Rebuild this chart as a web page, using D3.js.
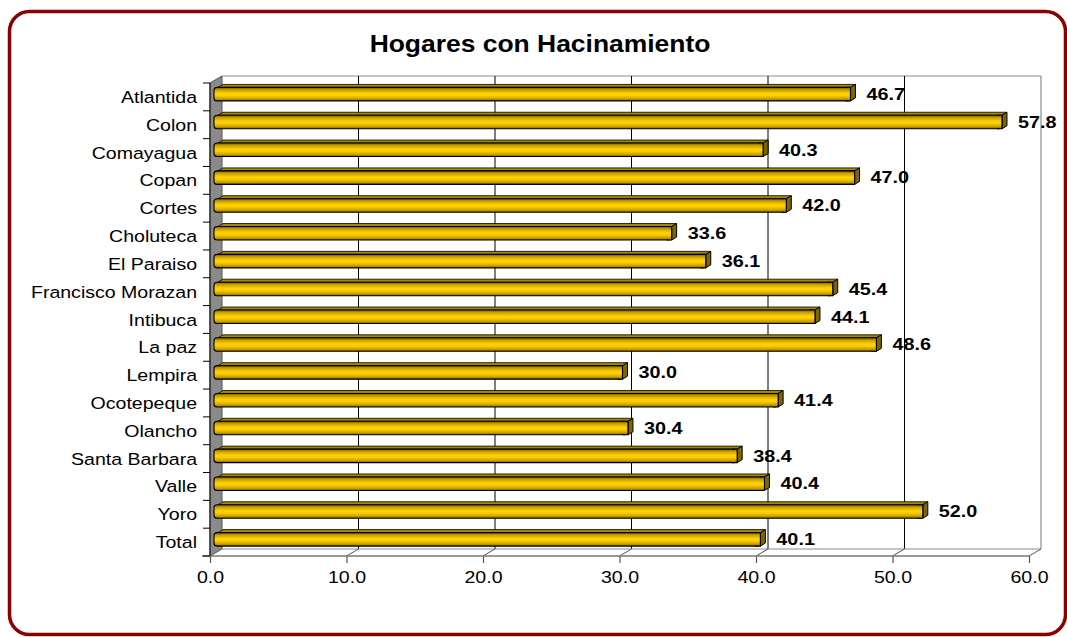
<!DOCTYPE html>
<html><head><meta charset="utf-8">
<script src="https://cdn.jsdelivr.net/npm/d3@7"></script>
<style>
html,body{margin:0;padding:0;background:#fff;}
svg{display:block;}
text{font-family:"Liberation Sans",Arial,sans-serif;fill:#000;}
</style></head>
<body>
<svg id="chart" width="1067" height="637"></svg>
<script>
const categories = ["Atlantida","Colon","Comayagua","Copan","Cortes","Choluteca","El Paraiso","Francisco Morazan","Intibuca","La paz","Lempira","Ocotepeque","Olancho","Santa Barbara","Valle","Yoro","Total"];
const values = [46.7,57.8,40.3,47.0,42.0,33.6,36.1,45.4,44.1,48.6,30.0,41.4,30.4,38.4,40.4,52.0,40.1];
const tickValues = [0,10,20,30,40,50,60];
const title = "Hogares con Hacinamiento";

(function(){
const svg = d3.select("#chart");

// frame
svg.append("rect").attr("x",9.5).attr("y",11.5).attr("width",1056).attr("height",623)
  .attr("rx",20).attr("ry",20).attr("fill","#fff").attr("stroke","#8B0000").attr("stroke-width",3.5);

// title
svg.append("text").attr("transform","translate(540,52) scale(1.15,1)")
  .attr("text-anchor","middle").style("font-size","23px").style("font-weight","bold").text(title);

// geometry
const x = d3.scaleLinear().domain([0,60]).range([210,1029]);
const y = d3.scaleBand().domain(categories).range([83,556]).padding(0);
const DX = 12, DY = -7;            // 3D depth of the plot box
const bDX = 5, bDY = -3;           // depth of each bar
const yTop = y.range()[0], yBot = y.range()[1];

// defs: gradient
const defs = svg.append("defs");
const g1 = defs.append("linearGradient").attr("id","gold").attr("x1",0).attr("y1",0).attr("x2",0).attr("y2",1);
[[0,"#6f5a00"],[0.18,"#c9a000"],[0.45,"#ffd200"],[0.6,"#ffcc00"],[0.85,"#c9a000"],[1,"#6f5a00"]]
  .forEach(([o,c])=>g1.append("stop").attr("offset",o).attr("stop-color",c));

// back wall edges
svg.append("line").attr("x1",x(0)+DX).attr("x2",x(60)+DX).attr("y1",yTop+DY).attr("y2",yTop+DY)
  .attr("stroke","#8c8c8c").attr("stroke-width",1.2);
svg.append("line").attr("x1",x(60)+DX).attr("x2",x(60)+DX).attr("y1",yTop+DY).attr("y2",yBot+DY)
  .attr("stroke","#8c8c8c").attr("stroke-width",1.2);

// gridlines on back wall
svg.selectAll(".grid").data(tickValues.filter(t=>t>0 && t<60)).join("line")
  .attr("x1",d=>x(d)+DX).attr("x2",d=>x(d)+DX).attr("y1",yTop+DY).attr("y2",yBot+DY)
  .attr("stroke","#000").attr("stroke-width",1);

// floor
svg.append("line").attr("x1",x(0)+DX).attr("x2",x(60)+DX).attr("y1",yBot+DY).attr("y2",yBot+DY)
  .attr("stroke","#8c8c8c").attr("stroke-width",1.2);
svg.selectAll(".fdiag").data(tickValues.filter(t=>t>0)).join("line")
  .attr("x1",d=>x(d)+DX).attr("x2",d=>x(d)).attr("y1",yBot+DY).attr("y2",yBot)
  .attr("stroke","#555").attr("stroke-width",1);

// left wall
svg.append("polygon")
  .attr("points",[[x(0),yTop],[x(0)+DX,yTop+DY],[x(0)+DX,yBot+DY],[x(0),yBot]].map(p=>p.join(",")).join(" "))
  .attr("fill","#8a8a8a").attr("stroke","#555").attr("stroke-width",1);

// bottom axis
const xAxis = d3.axisBottom(x).tickValues(tickValues).tickFormat(d3.format(".1f")).tickSize(7).tickPadding(8);
const gx = svg.append("g").attr("transform",`translate(0,${yBot})`).call(xAxis);
gx.select(".domain").remove();
gx.selectAll(".tick line").attr("stroke","#555").attr("stroke-width",1.2);
gx.selectAll(".tick text").style("font-size","17px").style("font-family","'Liberation Sans',Arial,sans-serif")
  .attr("fill","#000").attr("transform","scale(1.15,1)");
svg.append("line").attr("x1",x(0)-8).attr("x2",x(60)).attr("y1",yBot).attr("y2",yBot)
  .attr("stroke","#777").attr("stroke-width",1.5);

// left axis
svg.append("line").attr("x1",x(0)).attr("x2",x(0)).attr("y1",yTop).attr("y2",yBot)
  .attr("stroke","#222").attr("stroke-width",1.2);
const bounds = categories.map(c=>y(c)).concat([yBot]);
svg.selectAll(".ytick").data(bounds).join("line")
  .attr("x1",x(0)-7).attr("x2",x(0)).attr("y1",d=>d).attr("y2",d=>d)
  .attr("stroke","#000").attr("stroke-width",1);
svg.selectAll(".ylab").data(categories).join("text")
  .attr("transform",d=>`translate(${x(0)-13},${y(d)+y.bandwidth()/2+6}) scale(1.15,1)`)
  .attr("text-anchor","end").style("font-size","17px").text(d=>d);

// bars
const data = categories.map((c,i)=>({c, v:values[i]}));
const bars = svg.selectAll(".bar").data(data).join("g");
const x0 = x(0)+4;
bars.each(function(d){
  const g = d3.select(this);
  const yc = y(d.c)+y.bandwidth()/2;
  const yt = yc-9.5, h = 13.5;
  const xe = x(d.v)+3;
  g.append("polygon").attr("points",[[x0+4,yt],[xe,yt],[xe+bDX,yt+bDY],[x0+4+bDX,yt+bDY]].map(p=>p.join(",")).join(" "))
    .attr("fill","#a88800").attr("stroke","#000").attr("stroke-width",0.8);
  g.append("polygon").attr("points",[[xe,yt],[xe+bDX,yt+bDY],[xe+bDX,yt+h+bDY],[xe,yt+h]].map(p=>p.join(",")).join(" "))
    .attr("fill","#7d6600").attr("stroke","#000").attr("stroke-width",1);
  g.append("rect").attr("x",x0).attr("y",yt).attr("width",xe-x0).attr("height",h)
    .attr("rx",3).attr("ry",3).attr("fill","url(#gold)").attr("stroke","#000").attr("stroke-width",1.1);
  g.append("rect").attr("x",xe-4).attr("y",yt).attr("width",4).attr("height",h)
    .attr("fill","url(#gold)");
  g.append("path").attr("d",`M${xe-5},${yt}H${xe}V${yt+h}H${xe-5}`).attr("fill","none").attr("stroke","#000").attr("stroke-width",1.1);
  g.append("text").attr("transform",`translate(${xe+16},${yc+3}) scale(1.2,1)`)
    .style("font-size","16.5px").style("font-weight","bold").text(d3.format(".1f")(d.v));
});
})();
</script>
</body></html>
